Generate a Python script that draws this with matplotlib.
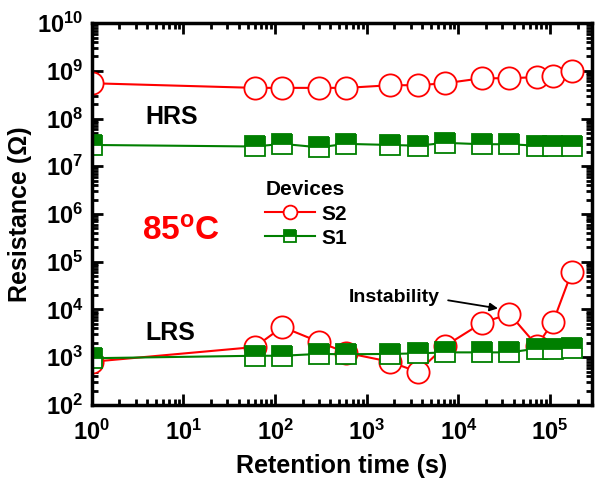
import math
import matplotlib
matplotlib.use('Agg')
import matplotlib.pyplot as plt
from matplotlib.ticker import LogLocator, FuncFormatter, NullFormatter

plt.rcParams['font.family'] = ['Liberation Sans', 'DejaVu Sans']
plt.rcParams['font.weight'] = 'bold'
plt.rcParams['mathtext.fontset'] = 'custom'
plt.rcParams['mathtext.rm'] = 'Liberation Sans:bold'
plt.rcParams['mathtext.it'] = 'Liberation Sans:bold'
plt.rcParams['mathtext.bf'] = 'Liberation Sans:bold'

# retention times (s)
t = [1, 60, 120, 300, 600, 1800, 3600, 7200, 18000, 36000, 72000, 108000, 172800]

# S2 (red circles)
s2_hrs = [5.5e8, 4.4e8, 4.4e8, 4.4e8, 4.4e8, 5.0e8, 5.0e8, 5.5e8, 7.0e8, 7.0e8, 7.4e8, 7.8e8, 1.0e9]
s2_lrs = [800, 1630, 4300, 2100, 1230, 800, 490, 1730, 5200, 8100, 1730, 5500, 62000]

# S1 (green half-filled squares)
s1_hrs = [2.8e7, 2.6e7, 2.95e7, 2.5e7, 2.95e7, 2.8e7, 2.7e7, 3.1e7, 2.9e7, 2.9e7, 2.7e7, 2.7e7, 2.7e7]
s1_lrs = [950, 1070, 1070, 1170, 1150, 1170, 1200, 1260, 1260, 1260, 1510, 1510, 1550]

fig = plt.figure(figsize=(6, 4.82), dpi=100)
ax = fig.add_axes([0.153, 0.160, 0.834, 0.792])

red = '#ff0000'
green = '#007f00'

ax.plot(t, s2_hrs, '-o', color=red, lw=1.5, ms=16, mfc='white', mec=red, mew=1.3, label='S2')
ax.plot(t, s2_lrs, '-o', color=red, lw=1.5, ms=16, mfc='white', mec=red, mew=1.3)
ax.plot(t, s1_hrs, '-s', color=green, lw=1.5, ms=14, mfc=green, mfcalt='white', fillstyle='top',
        mec=green, mew=1.3, label='S1')
ax.plot(t, s1_lrs, '-s', color=green, lw=1.5, ms=14, mfc=green, mfcalt='white', fillstyle='top',
        mec=green, mew=1.3)

ax.set_xscale('log')
ax.set_yscale('log')
ax.set_xlim(1, 2.88e5)
ax.set_ylim(1e2, 1e10)

fmt = FuncFormatter(lambda v, p: r'$10^{%d}$' % round(math.log10(v)))
ax.xaxis.set_major_locator(LogLocator(base=10, numticks=20))
ax.yaxis.set_major_locator(LogLocator(base=10, numticks=20))
ax.xaxis.set_minor_locator(LogLocator(base=10, subs=range(2, 10), numticks=20))
ax.yaxis.set_minor_locator(LogLocator(base=10, subs=range(2, 10), numticks=20))
ax.xaxis.set_major_formatter(fmt)
ax.yaxis.set_major_formatter(fmt)
ax.xaxis.set_minor_formatter(NullFormatter())
ax.yaxis.set_minor_formatter(NullFormatter())

ax.tick_params(which='both', direction='in', top=True, right=True, width=2)
ax.tick_params(which='major', length=8, labelsize=17, pad=6)
ax.tick_params(which='minor', length=4)
ax.tick_params(axis='x', which='major', pad=11)
for s in ax.spines.values():
    s.set_linewidth(2.5)

ax.set_xlabel('Retention time (s)', fontsize=18, fontweight='bold', labelpad=6)
ax.set_ylabel('Resistance (\u03a9)', fontsize=18, fontweight='bold', labelpad=4)

ax.text(7.5, 1.1e8, 'HRS', fontsize=18, fontweight='bold', ha='center', va='center')
ax.text(7.2, 3.2e3, 'LRS', fontsize=18, fontweight='bold', ha='center', va='center')
ax.text(9.4, 4.2e5, r'85$^{\mathrm{o}}$C', fontsize=24, color=red, ha='center', va='center')

ax.annotate('Instability', xy=(2.7e4, 1.05e4), xytext=(2.0e3, 1.8e4), fontsize=14,
            fontweight='bold', ha='center', va='center',
            arrowprops=dict(arrowstyle='-|>', color='black', lw=1.3, mutation_scale=12,
                            relpos=(1.0, 0.4), shrinkA=4, shrinkB=0))

leg = ax.legend(title='Devices', loc='upper left', bbox_to_anchor=(0.33, 0.61), frameon=False,
                fontsize=15, title_fontsize=15, markerscale=0.62, handlelength=2.4,
                handletextpad=0.3, labelspacing=0.25, alignment='left', borderaxespad=0)
leg.get_title().set_fontweight('bold')

fig.savefig('out.png', dpi=100)
